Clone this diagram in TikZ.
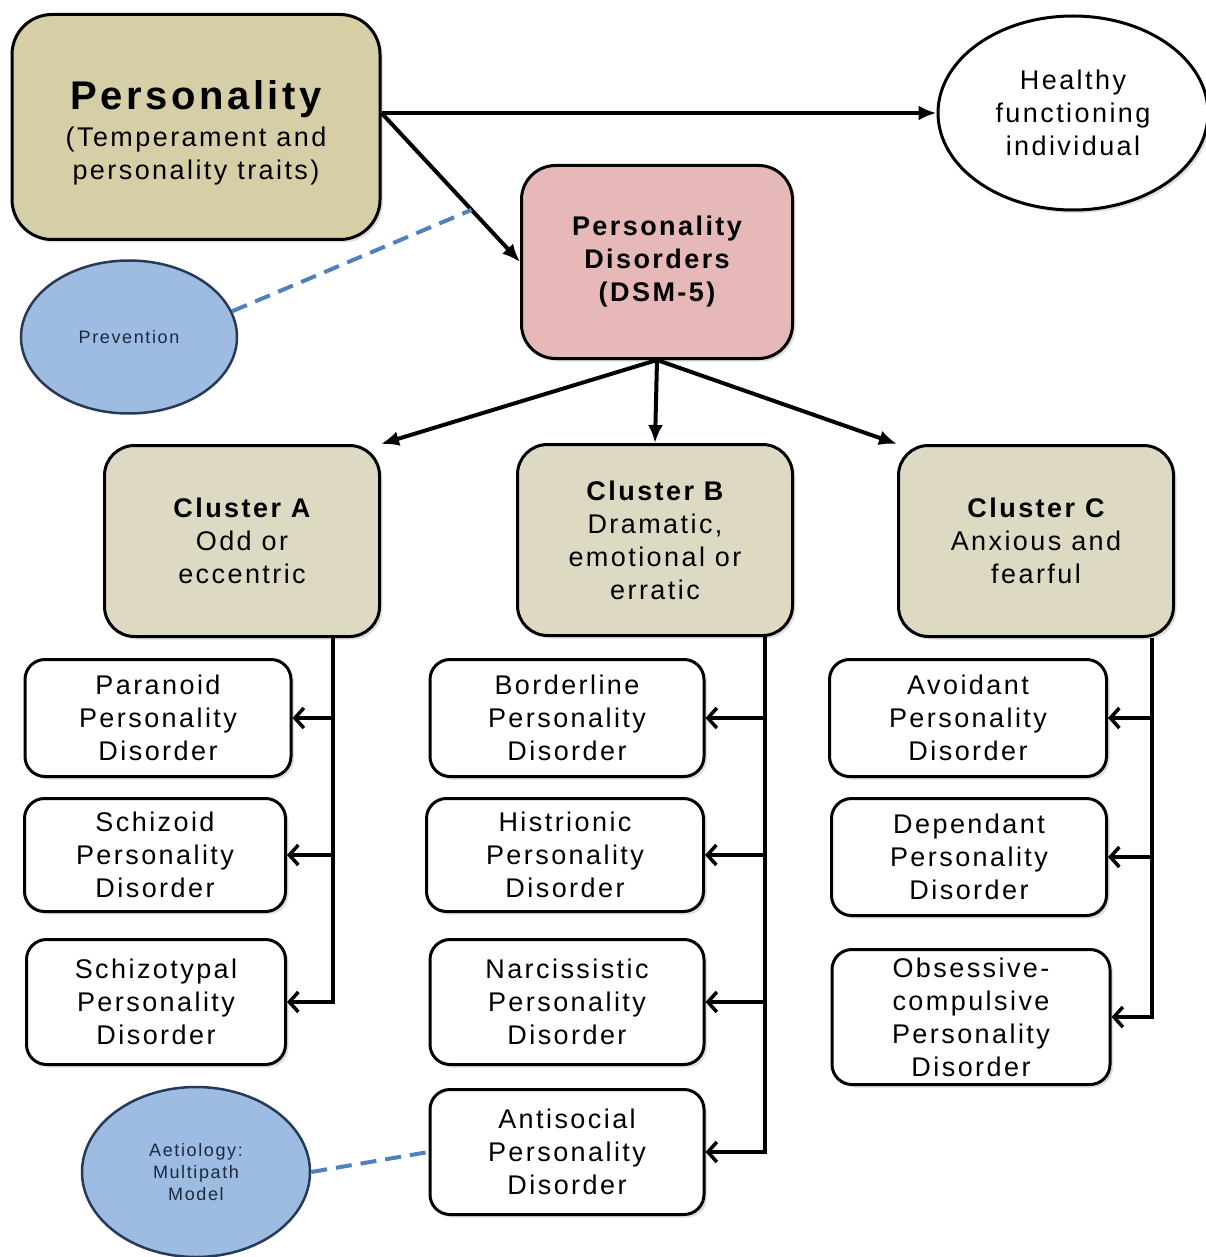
\documentclass[tikz,border=0pt]{standalone}
\usepackage{fontspec}
\setmainfont[LetterSpace=9]{Liberation Sans}
\usepackage{tikz}
\usetikzlibrary{arrows.meta, shapes.geometric, shadows, calc}
\definecolor{tanbox}{RGB}{214,206,166}
\definecolor{clbox}{RGB}{221,217,195}
\definecolor{pinkbox}{RGB}{230,184,183}
\definecolor{bluell}{RGB}{158,187,226}
\definecolor{blueedge}{RGB}{38,58,88}
\definecolor{dashblue}{RGB}{79,129,189}
\tikzset{>={Latex[length=18pt,width=15pt]}}
\tikzset{
  box/.style={draw, line width=3pt, align=center, inner sep=0pt,
    font=\fontsize{27}{33}\selectfont,
    drop shadow={opacity=0.25, shadow xshift=3pt, shadow yshift=-3pt}},
  clbox/.style={box, fill=clbox, rounded corners=30pt, minimum width=275pt, minimum height=191pt},
  pdbox/.style={box, fill=white, rounded corners=20pt, minimum width=#1},
  blob/.style={ellipse, draw=blueedge, line width=2.5pt, fill=bluell, inner sep=0pt, align=center,
    text=blueedge!70!black, font=\fontsize{18}{22}\selectfont},
  main/.style={line width=4pt, ->},
  side/.style={line width=3.5pt, -{Straight Barb[length=9pt,width=20pt]}},
  link/.style={line width=4pt, dash pattern=on 16pt off 9pt, draw=dashblue}
}

\begin{document}
\begin{tikzpicture}[x=1pt,y=-1pt]
    \useasboundingbox (0,0) rectangle (1206,1257);
    % top row
    \node[box, fill=tanbox, rounded corners=40pt, minimum width=368pt, minimum height=225pt] (pers) at (196,127)
      {\rule{0pt}{40pt}{\fontsize{40}{44}\selectfont\bfseries Personality}\\[4pt](Temperament and\\personality traits)};
    \node[box, ellipse, fill=white, minimum width=270pt, minimum height=194pt] (healthy) at (1073,113)
      {Healthy\\functioning\\individual};
    \node[box, fill=pinkbox, rounded corners=34pt, minimum width=271pt, minimum height=193pt] (pd) at (657,262)
      {\bfseries Personality\\\bfseries Disorders\\\bfseries (DSM-5)};
    \node[blob, minimum width=216pt, minimum height=153pt] (prev) at (129,337) {Prevention};
    % clusters
    \node[clbox] (clA) at (242,541) {\bfseries Cluster A\\Odd or\\eccentric};
    \node[clbox] (clB) at (655,540) {\bfseries Cluster B\\Dramatic,\\emotional or\\erratic};
    \node[clbox] (clC) at (1036,541) {\bfseries Cluster C\\Anxious and\\fearful};
    % disorders
    \node[pdbox=266pt, minimum height=117pt] (par) at (158,718) {Paranoid\\Personality\\Disorder};
    \node[pdbox=261pt, minimum height=113pt] (schz) at (155,855) {Schizoid\\Personality\\Disorder};
    \node[pdbox=259pt, minimum height=125pt] (styp) at (156,1002) {Schizotypal\\Personality\\Disorder};
    \node[pdbox=274pt, minimum height=117pt] (bord) at (567,718) {Borderline\\Personality\\Disorder};
    \node[pdbox=277pt, minimum height=113pt] (hist) at (565,855) {Histrionic\\Personality\\Disorder};
    \node[pdbox=274pt, minimum height=125pt] (narc) at (567,1002) {Narcissistic\\Personality\\Disorder};
    \node[pdbox=274pt, minimum height=125pt] (anti) at (567,1152) {Antisocial\\Personality\\Disorder};
    \node[pdbox=277pt, minimum height=117pt] (avoi) at (968,718) {Avoidant\\Personality\\Disorder};
    \node[pdbox=275pt, minimum height=117pt] (depe) at (969,857) {Dependant\\Personality\\Disorder};
    \node[pdbox=278pt, minimum height=135pt] (obse) at (971,1017) {Obsessive-\\compulsive\\Personality\\Disorder};
    \node[blob, minimum width=228pt, minimum height=170pt] (aet) at (196,1172)
      {Aetiology:\\Multipath\\Model};
    % arrows
    \coordinate (split) at (pers.east |- healthy.west);
    \coordinate (hit) at ($(split)!0.65!(pd.west)$);
    \draw[main] (split) -- (healthy.west);
    \draw[main] (split) -- (pd.west);
    \draw[link] (prev.14) -- (hit);
    \draw[main] (pd.south) -- (clA.north east);
    \draw[main] (pd.south) -- (clB.north);
    \draw[main] (pd.south) -- (clC.north west);
    \coordinate (busA) at ([xshift=-48pt]clA.south east);
    \coordinate (busB) at ([xshift=-29pt]clB.south east);
    \coordinate (busC) at ([xshift=-23pt]clC.south east);
    \draw[side] (busA) |- (styp.east);
    \draw[side] (busA |- par.east) -- (par.east);
    \draw[side] (busA |- schz.east) -- (schz.east);
    \draw[side] (busB) |- (anti.east);
    \draw[side] (busB |- bord.east) -- (bord.east);
    \draw[side] (busB |- hist.east) -- (hist.east);
    \draw[side] (busB |- narc.east) -- (narc.east);
    \draw[side] (busC) |- (obse.east);
    \draw[side] (busC |- avoi.east) -- (avoi.east);
    \draw[side] (busC |- depe.east) -- (depe.east);
    \draw[link] (aet.east) -- (anti.west);
\end{tikzpicture}
\end{document}
